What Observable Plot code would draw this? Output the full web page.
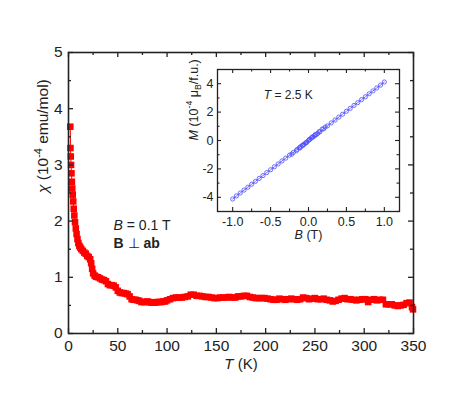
<!DOCTYPE html>
<html><head><meta charset="utf-8">
<script src="https://cdn.jsdelivr.net/npm/d3@7"></script>
<script src="https://cdn.jsdelivr.net/npm/@observablehq/plot@0.6"></script>
<style>
html,body{margin:0;padding:0;background:#fff;}
#wrap{position:relative;width:463px;height:404px;}
#inset{position:absolute;left:160px;top:55px;}
</style>
</head><body>
<div id="wrap"><div id="main"></div><div id="inset"></div></div>
<script>
// ---- main panel: susceptibility vs temperature ----
const temperatureK = [1.8,2.0,2.3,2.6,3.0,3.4,3.8,4.3,4.8,5.3,5.9,6.6,7.4,8.2,9.1,10,11,12,13,14.5,16,17.5,19,20.5,22,23,24,25,26.5,28,30,32,34,36,38,40,42,44,46,48,50,52,54,56,58,60,62,64,66,68,70,72,74,76,78,80,82,84,86,88,90,92,94,96,98,100,103,106,109,112,115,118,121,124,127,130,133,136,139,142,145,148,151,154,157,160,163,166,169,172,175,178,181,184,187,190,193,196,199,202,205,208,211,214,217,220,223,226,229,232,235,238,241,244,247,250,253,256,259,262,265,268,271,274,277,280,283,286,289,292,295,298,301,304,307,310,313,316,319,322,325,328,331,334,337,340,343,346,348.5,349.5];
const chi = [3.68,3.30,3.15,3.00,2.85,2.70,2.58,2.47,2.35,2.22,2.10,1.98,1.87,1.77,1.68,1.61,1.56,1.53,1.50,1.47,1.44,1.42,1.38,1.36,1.32,1.25,1.15,1.07,1.03,1.01,1.00,0.98,0.96,0.95,0.93,0.88,0.86,0.86,0.85,0.82,0.76,0.73,0.72,0.72,0.71,0.70,0.66,0.61,0.60,0.60,0.59,0.58,0.56,0.56,0.56,0.57,0.56,0.55,0.55,0.55,0.56,0.56,0.56,0.57,0.57,0.59,0.61,0.63,0.64,0.64,0.64,0.65,0.66,0.69,0.69,0.67,0.67,0.66,0.65,0.65,0.64,0.63,0.63,0.64,0.64,0.64,0.65,0.64,0.64,0.66,0.66,0.67,0.67,0.65,0.64,0.63,0.63,0.63,0.63,0.62,0.61,0.60,0.60,0.62,0.61,0.60,0.61,0.62,0.61,0.60,0.61,0.64,0.63,0.61,0.62,0.63,0.61,0.61,0.62,0.60,0.59,0.57,0.58,0.60,0.62,0.63,0.61,0.61,0.60,0.59,0.60,0.61,0.61,0.56,0.60,0.61,0.59,0.60,0.60,0.52,0.52,0.52,0.50,0.49,0.50,0.51,0.54,0.55,0.47,0.43];
const mainXMajor = [0,50,100,150,200,250,300,350];
const mainXMinor = [25,75,125,175,225,275,325];
const mainYMajor = [0,1,2,3,4,5];
const mainYMinor = [0.5,1.5,2.5,3.5,4.5];

// ---- inset: magnetization vs field ----
const fieldT = [-1.0,-0.95,-0.9,-0.85,-0.8,-0.75,-0.7,-0.65,-0.6,-0.55,-0.5,-0.45,-0.4,-0.35,-0.3,-0.25,-0.2,-0.15,-0.12,-0.1,-0.08,-0.06,-0.04,-0.02,0,0.02,0.04,0.06,0.08,0.1,0.12,0.15,0.2,0.25,0.3,0.35,0.4,0.45,0.5,0.55,0.6,0.65,0.7,0.75,0.8,0.85,0.9,0.95,1.0];
const magnet = [-4.12,-3.90,-3.70,-3.49,-3.29,-3.08,-2.88,-2.67,-2.47,-2.26,-2.06,-1.85,-1.65,-1.44,-1.24,-1.03,-0.84,-0.63,-0.50,-0.42,-0.34,-0.27,-0.18,-0.10,0.0,0.10,0.18,0.26,0.33,0.41,0.49,0.61,0.82,1.03,1.24,1.44,1.65,1.85,2.06,2.26,2.47,2.67,2.88,3.08,3.29,3.49,3.70,3.90,4.12];
const fieldReturn = [0.22,0.18,0.14,0.09,0.05,0.01,-0.03,-0.07,-0.11,-0.16,-0.22];
const magnetReturn = [0.95,0.80,0.62,0.42,0.24,0.06,-0.16,-0.33,-0.52,-0.72,-0.96];
const insetXMajor = [-1.0,-0.5,0.0,0.5,1.0];
const insetXMinor = [-0.75,-0.25,0.25,0.75];
const insetYMajor = [-4,-2,0,2,4];
const insetYMinor = [-5,-3,-1,1,3,5];

const mainData = temperatureK.map((t,i)=>({t, c: chi[i]}));
const insetData = fieldT.map((b,i)=>({b, m: magnet[i]}));
const insetReturn = fieldReturn.map((b,i)=>({b, m: magnetReturn[i]}));

const FONT = "'Liberation Sans', Arial, Helvetica, sans-serif";
const INK = "#222";

const RICH = {
  "__CHI__": {size:15.5, segs:[{t:"χ",i:true},{t:" (10"},{t:"-4",sup:true},{t:" emu/mol)"}]},
  "__TK__": {size:15, segs:[{t:"T",i:true},{t:" (K)"}]},
  "__B01__": {size:14, segs:[{t:"B",i:true},{t:" = 0.1 T"}]},
  "__BPERP__": {size:14, segs:[{t:"B",b:true},{t:" ⊥ "},{t:"ab",b:true}]},
  "__M__": {size:12.5, segs:[{t:"M",i:true},{t:" (10"},{t:"-4",sup:true},{t:" μ"},{t:"B",sub:true},{t:"/f.u.)"}]},
  "__BT__": {size:12.5, segs:[{t:"B",i:true},{t:" (T)"}]},
  "__T25__": {size:12, segs:[{t:"T",i:true},{t:" = 2.5 K"}]}
};

function applyRich(svg){
  const ns = "http://www.w3.org/2000/svg";
  d3.select(svg).selectAll("text").each(function(){
    const key = this.textContent;
    const r = RICH[key];
    if(!r) return;
    this.textContent = "";
    this.setAttribute("font-size", r.size);
    let shift = 0;
    for(const s of r.segs){
      const ts = document.createElementNS(ns,"tspan");
      let target = 0, fs = r.size;
      if(s.sup){ target = -0.42*r.size; fs = 0.7*r.size; }
      if(s.sub){ target = 0.25*r.size; fs = 0.7*r.size; }
      const dy = target - shift;
      if(dy !== 0) ts.setAttribute("dy", dy);
      shift = target;
      ts.setAttribute("font-size", fs);
      if(s.i) ts.setAttribute("font-style","italic");
      if(s.b) ts.setAttribute("font-weight","bold");
      ts.textContent = s.t;
      this.appendChild(ts);
    }
  });
}

// ---- main plot ----
const W=463, H=404, mL=68, mR=50, mT=52, mB=71;
const iw = W-mL-mR, ih = H-mT-mB;
const main = Plot.plot({
  width: W, height: H, marginLeft: mL, marginRight: mR, marginTop: mT, marginBottom: mB,
  x: {domain:[0,350]}, y: {domain:[0,5]},
  style: {fontFamily: FONT, fontSize: "15px", color: INK, background: "transparent", overflow: "visible"},
  marks: [
    Plot.line(mainData, {x:"t", y:"c", stroke:"#ff0000", strokeWidth:1}),
    Plot.dot(mainData, {x:"t", y:"c", symbol:"square", r:3.7, fill:"#ff0000", stroke:"none"}),
    Plot.tickX(mainXMajor, {x:d=>d, insetTop: ih-5, stroke: INK, strokeWidth:1.3}),
    Plot.tickX(mainXMinor, {x:d=>d, insetTop: ih-3, stroke: INK, strokeWidth:1.3}),
    Plot.tickX(mainXMajor, {x:d=>d, insetBottom: ih-5, stroke: INK, strokeWidth:1.3}),
    Plot.tickX(mainXMinor, {x:d=>d, insetBottom: ih-3, stroke: INK, strokeWidth:1.3}),
    Plot.tickY(mainYMajor, {y:d=>d, insetRight: iw-5, stroke: INK, strokeWidth:1.3}),
    Plot.tickY(mainYMinor, {y:d=>d, insetRight: iw-3, stroke: INK, strokeWidth:1.3}),
    Plot.tickY(mainYMajor, {y:d=>d, insetLeft: iw-5, stroke: INK, strokeWidth:1.3}),
    Plot.tickY(mainYMinor, {y:d=>d, insetLeft: iw-3, stroke: INK, strokeWidth:1.3}),
    Plot.axisX(mainXMajor, {tickSize:0, tickPadding:6.5, label:null, tickFormat: d=>String(d), fontSize:15.5}),
    Plot.axisY(mainYMajor, {tickSize:0, tickPadding:6, label:null, tickFormat: d=>String(d), fontSize:15.5}),
    Plot.frame({stroke: INK, strokeWidth: 1.6}),
    Plot.text(["__TK__"], {frameAnchor:"bottom", dy: 35, text: d=>d, fill: INK}),
    Plot.text(["__CHI__"], {frameAnchor:"left", rotate:-90, dx: -25, text: d=>d, fill: INK}),
    Plot.text(["__B01__"], {x: 45.7, y: 1.92, textAnchor:"start", text: d=>d, fill: INK}),
    Plot.text(["__BPERP__"], {x: 45.7, y: 1.60, textAnchor:"start", text: d=>d, fill: INK})
  ]
});
applyRich(main);
document.getElementById("main").appendChild(main);

// ---- inset plot ----
const IW=250, IH=200, imL=57, imR=11, imT=14, imB=44;
const iiw = IW-imL-imR, iih = IH-imT-imB;
const BLUE = "#4b4bff";
const inset = Plot.plot({
  width: IW, height: IH, marginLeft: imL, marginRight: imR, marginTop: imT, marginBottom: imB,
  x: {domain:[-1.2,1.2]}, y: {domain:[-5,5]},
  style: {fontFamily: FONT, fontSize: "12.5px", color: INK, background: "transparent", overflow: "visible"},
  marks: [
    Plot.line(insetData, {x:"b", y:"m", stroke: BLUE, strokeWidth:0.8}),
    Plot.dot(insetData, {x:"b", y:"m", r:2.1, stroke: BLUE, strokeWidth:0.8, fill:"none"}),
    Plot.dot(insetReturn, {x:"b", y:"m", r:2.1, stroke: BLUE, strokeWidth:0.8, fill:"none"}),
    Plot.tickX(insetXMajor, {x:d=>d, insetTop: iih-4, stroke: INK, strokeWidth:1.1}),
    Plot.tickX(insetXMinor, {x:d=>d, insetTop: iih-2.5, stroke: INK, strokeWidth:1.1}),
    Plot.tickX(insetXMajor, {x:d=>d, insetBottom: iih-4, stroke: INK, strokeWidth:1.1}),
    Plot.tickX(insetXMinor, {x:d=>d, insetBottom: iih-2.5, stroke: INK, strokeWidth:1.1}),
    Plot.tickY(insetYMajor, {y:d=>d, insetRight: iiw-4, stroke: INK, strokeWidth:1.1}),
    Plot.tickY(insetYMinor, {y:d=>d, insetRight: iiw-2.5, stroke: INK, strokeWidth:1.1}),
    Plot.tickY(insetYMajor, {y:d=>d, insetLeft: iiw-4, stroke: INK, strokeWidth:1.1}),
    Plot.tickY(insetYMinor, {y:d=>d, insetLeft: iiw-2.5, stroke: INK, strokeWidth:1.1}),
    Plot.axisX(insetXMajor, {tickSize:0, tickPadding:5.5, label:null, tickFormat: d=>d.toFixed(1), fontSize:12.5}),
    Plot.axisY(insetYMajor, {tickSize:0, tickPadding:4, label:null, tickFormat: d=>String(d), fontSize:12.5}),
    Plot.frame({stroke: INK, strokeWidth: 1.3}),
    Plot.text(["__BT__"], {frameAnchor:"bottom", dy: 27, text: d=>d, fill: INK}),
    Plot.text(["__M__"], {frameAnchor:"left", rotate:-90, dx: -24, text: d=>d, fill: INK}),
    Plot.text(["__T25__"], {x: -0.59, y: 3.18, textAnchor:"start", text: d=>d, fill: INK})
  ]
});
applyRich(inset);
document.getElementById("inset").appendChild(inset);
</script>
</body></html>
